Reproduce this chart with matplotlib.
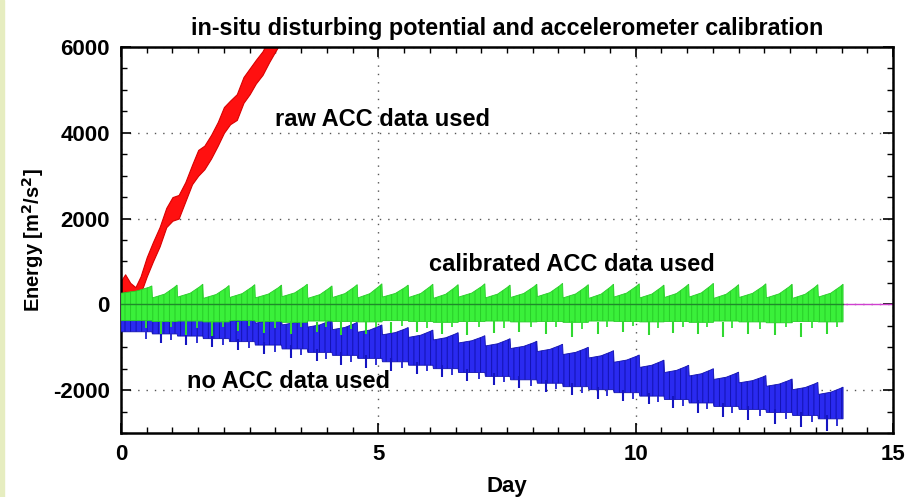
import matplotlib
matplotlib.use("Agg")
import matplotlib.pyplot as plt
import numpy as np
from matplotlib.patches import Rectangle

plt.rcParams['font.family'] = ['Liberation Sans', 'DejaVu Sans']
plt.rcParams['font.weight'] = 'bold'
plt.rcParams['axes.unicode_minus'] = False
plt.rcParams['hatch.linewidth'] = 0.7

# --- data ---
# red: raw ACC data used (band low / high)
red_day = [0.0, 0.08, 0.18, 0.28, 0.38, 0.5, 0.62, 0.75, 0.88, 1.0, 1.12, 1.25, 1.38,
           1.5, 1.62, 1.75, 1.88, 2.0, 2.12, 2.25, 2.38, 2.5, 2.62, 2.75, 2.88, 3.0, 3.1]
red_hi = [550, 700, 500, 400, 650, 1100, 1450, 1800, 2250, 2500, 2550, 2850, 3250,
          3600, 3700, 3950, 4250, 4600, 4750, 4900, 5300, 5500, 5700, 5900, 6200, 6400, 6600]
red_lo = [250, 300, 150, 80, 250, 650, 1000, 1350, 1800, 1950, 2000, 2400, 2800,
          3000, 3150, 3400, 3700, 4000, 4200, 4300, 4700, 4900, 5150, 5350, 5650, 5900, 6100]

# sawtooth peak days (shared by green and blue)
peak_day = [0.60, 1.09, 1.59, 2.10, 2.60, 3.12, 3.62, 4.10, 4.59, 5.07, 5.58, 6.06, 6.55, 7.07,
            7.56, 8.08, 8.58, 9.08, 9.57, 10.07, 10.55, 11.03, 11.51, 12.00, 12.53, 13.04, 13.54, 14.03]

# green: calibrated ACC data used
g_peak = [430, 450, 470, 440, 460, 450, 470, 430, 460, 480, 450, 470, 460, 480,
          450, 470, 490, 460, 470, 480, 450, 470, 490, 460, 480, 470, 460, 470]
g_body = [260, 150, 170, 140, 160, 150, 180, 140, 160, 150, 170, 160, 140, 170,
          150, 160, 180, 150, 140, 170, 150, 160, 170, 140, 160, 150, 140, 170]
g_floor = [-380, -400, -390, -410, -380, -400, -420, -390, -400, -410, -380, -400, -420, -400,
           -390, -410, -400, -420, -390, -400, -410, -400, -420, -390, -410, -430, -400, -410]
g_spike = [-700, -720, -740, -620, -680, -700, -650, -720, -700, -680, -650, -700, -720, -680,
           -650, -700, -760, -700, -650, -720, -680, -700, -760, -700, -720, -760, -700, -650]
g_spike2 = [-560, -520, -560, -540, -500, -560, -520, -540, -580, -520, -500, -560, -540, -520,
            -560, -540, -520, -580, -540, -500, -560, -540, -520, -560, -580, -540, -560, -520]

# blue: no ACC data used
b_peak = [-100, -130, -160, -190, -220, -260, -300, -360, -420, -480, -540, -600, -660, -730,
          -800, -860, -930, -1000, -1080, -1180, -1300, -1420, -1500, -1580, -1660, -1740, -1820, -1930]
b_body = [-300, -310, -340, -370, -400, -440, -480, -530, -590, -650, -710, -770, -830, -900,
          -970, -1030, -1100, -1170, -1250, -1350, -1470, -1590, -1670, -1750, -1830, -1910, -1990, -2100]
b_floor = [-640, -690, -740, -800, -870, -950, -1040, -1120, -1190, -1260, -1340, -1420, -1500, -1590,
           -1680, -1760, -1840, -1920, -1990, -2060, -2140, -2220, -2300, -2380, -2450, -2520, -2590, -2670]
b_spike = [-900, -950, -1000, -1070, -1150, -1240, -1330, -1410, -1480, -1550, -1620, -1700, -1780, -1880,
           -1960, -2040, -2120, -2200, -2260, -2330, -2420, -2540, -2620, -2700, -2780, -2870, -2950, -2990]
b_spike2 = [-800, -840, -890, -950, -1020, -1100, -1190, -1270, -1340, -1410, -1480, -1560, -1640, -1730,
            -1820, -1900, -1980, -2060, -2130, -2200, -2280, -2370, -2450, -2530, -2610, -2680, -2750, -2830]


def band(peaks, bodies, floors):
    up_x, up_y, lo_x, lo_y = [], [], [], []
    start = 0.0
    for i in range(len(peak_day)):
        mid = (start + peak_day[i]) / 2
        up_x += [start, mid, peak_day[i] - 0.06, peak_day[i]]
        up_y += [bodies[i], bodies[i] + (peaks[i] - bodies[i]) * 0.3,
                 bodies[i] + (peaks[i] - bodies[i]) * 0.8, peaks[i]]
        lo_x += [start, peak_day[i]]
        lo_y += [floors[i], floors[i]]
        start = peak_day[i] + 0.01
    return up_x + lo_x[::-1], up_y + lo_y[::-1]


fig = plt.figure(figsize=(9.05, 4.97), dpi=100)
fig.patches.append(Rectangle((0, 0), 3.5 / 905, 1, transform=fig.transFigure,
                             color='#e6edc0', zorder=0))
ax = fig.add_axes([121 / 905, 1 - 433 / 497, 772 / 905, 386 / 497])

ax.axhline(0, color='#d040d0', lw=1.0, zorder=1)

# red
ax.fill_between(red_day, red_lo, red_hi, color='#ff1010', lw=0.8, edgecolor='#d80000', zorder=2)

spk_day = [d + 0.18 for d in peak_day[:-1]]
spk2_day = [d - 0.12 for d in peak_day]

# blue
bx, by = band(b_peak, b_body, b_floor)
ax.fill(bx, by, facecolor='#2a2af0', lw=0.6, edgecolor='#1212b0', hatch='|||', zorder=3)
ax.vlines(spk_day, b_floor[:-1], b_spike[:-1], color='#1515c0', lw=1.5, zorder=3)
ax.vlines(spk2_day, b_floor, b_spike2, color='#2020d0', lw=1.3, zorder=3)

# green
gx, gy = band(g_peak, g_body, g_floor)
ax.fill(gx, gy, facecolor='#3af03a', lw=0.6, edgecolor='#28cc28', hatch='|||', zorder=4)
ax.vlines(spk_day, g_floor[:-1], g_spike[:-1], color='#30d830', lw=1.5, zorder=4)
ax.vlines(spk2_day, g_floor, g_spike2, color='#34e034', lw=1.3, zorder=4)
ax.plot([0, peak_day[-1]], [0, 0], color='#1f8a2a', lw=1.0, zorder=5)

ax.set_xlim(0, 15)
ax.set_ylim(-3000, 6000)
ax.set_xticks([0, 5, 10, 15])
ax.set_yticks([-2000, 0, 2000, 4000, 6000])
ax.set_xticks(np.arange(0, 15.01, 0.5), minor=True)
ax.set_yticks(np.arange(-3000, 6001, 500), minor=True)
ax.tick_params(which='both', direction='in', top=True, right=True, labelsize=16, pad=8)
ax.tick_params(which='major', length=7, width=1.2)
ax.tick_params(which='minor', length=4, width=1.0)
for s in ax.spines.values():
    s.set_linewidth(1.8)
ax.grid(True, which='major', color='#555555', linestyle=(0, (1, 5)), lw=1.0)
ax.set_axisbelow(True)

ax.set_title('in-situ disturbing potential and accelerometer calibration', fontsize=16.8,
             fontweight='bold', pad=9)
ax.set_xlabel('Day', fontsize=16, fontweight='bold', labelpad=8)
ax.set_ylabel('Energy [m$^2$/s$^2$]', fontsize=14.5, fontweight='bold', labelpad=5)

ax.text(3.0, 4300, 'raw ACC data used', fontsize=17, fontweight='bold', va='center', zorder=6)
ax.text(5.98, 930, 'calibrated ACC data used', fontsize=17, fontweight='bold', va='center', zorder=6)
ax.text(1.28, -1810, 'no ACC data used', fontsize=17, fontweight='bold', va='center', zorder=6)

fig.savefig('out.png', dpi=100)
